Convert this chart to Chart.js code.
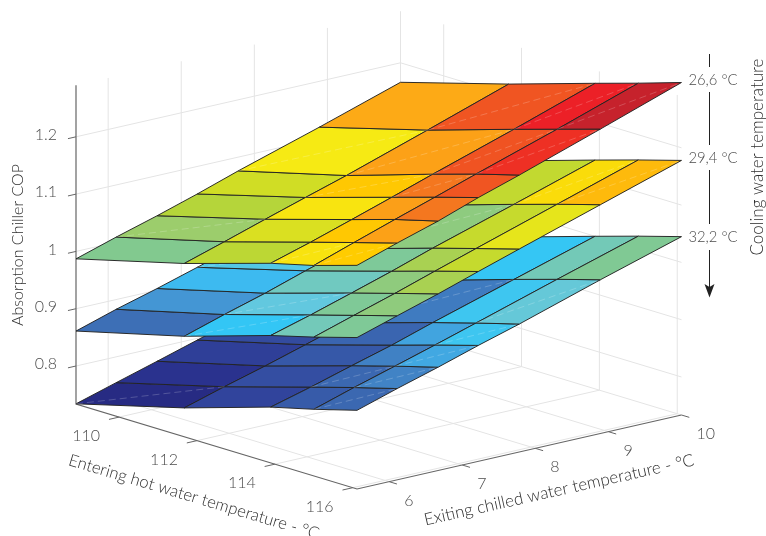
<!DOCTYPE html>
<html>
<head>
<meta charset="utf-8">
<title>Absorption Chiller COP</title>
<script src="https://cdn.jsdelivr.net/npm/chart.js@4/dist/chart.umd.min.js"></script>
<style>
  html, body { margin: 0; padding: 0; background: #fff; overflow: hidden; }
  canvas { display: block; }
</style>
</head>
<body>
<canvas id="myChart" width="766" height="536"></canvas>
<script>
// grid of the measurements (converted from deg F, so not round numbers)
const hotTemps = [108.89, 111.67, 113.89, 115, 116.11];
const chilledTemps = [5.56, 6.11, 6.67, 7.22, 7.78, 8.89, 10];

// COP, one row per chilled temp, one column per hot temp
const cop266 = [
  [0.987, 1.036, 1.082, 1.101, 1.124],
  [1.009, 1.058, 1.103, 1.125, 1.147],
  [1.030, 1.081, 1.126, 1.149, 1.169],
  [1.052, 1.103, 1.149, 1.172, 1.194],
  [1.076, 1.125, 1.173, 1.196, 1.217],
  [1.120, 1.172, 1.219, 1.242, 1.265],
  [1.166, 1.220, 1.267, 1.290, 1.314]
];
const cop294 = [
  [0.861, 0.909, 0.956, 0.976, 0.998],
  [0.883, 0.931, 0.976, 0.998, 1.020],
  [0.903, 0.952, 0.998, 1.020, 1.042],
  [0.924, 0.975, 1.020, 1.043, 1.065],
  [0.946, 0.997, 1.044, 1.066, 1.088],
  [0.988, 1.041, 1.088, 1.111, 1.133],
  [1.030, 1.086, 1.133, 1.156, 1.178]
];
const cop322 = [
  [0.734, 0.784, 0.831, 0.850, 0.871],
  [0.755, 0.805, 0.850, 0.872, 0.893],
  [0.776, 0.825, 0.871, 0.893, 0.914],
  [0.797, 0.846, 0.891, 0.914, 0.936],
  [0.818, 0.868, 0.914, 0.936, 0.957],
  [0.861, 0.910, 0.957, 0.980, 1.002],
  [0.903, 0.953, 1.000, 1.023, 1.045]
];

// cells that show the faint dashed seam in the picture, [row, col]
const seams266 = [[0, 2], [0, 3], [1, 0], [3, 1], [3, 2], [4, 0], [4, 1], [4, 2], [4, 3], [5, 1], [5, 2], [5, 3]];
const seams294 = [[0, 1], [1, 1], [3, 0], [4, 1], [5, 2], [5, 3]];
const seams322 = [[0, 0], [0, 3], [1, 2], [1, 3], [2, 3], [3, 3], [4, 1], [4, 3]];

const hotTicks = [110, 112, 114, 116];
const chilledTicks = [6, 7, 8, 9, 10];
const copTicks = [0.8, 0.9, 1, 1.1, 1.2];
const copTickLabels = ['0.8', '0.9', '1', '1.1', '1.2'];
const coolingLabels = ['26,6 °C', '29,4 °C', '32,2 °C'];

// colormap read from the cells
const mapValues = [0.734, 0.76, 0.785, 0.83, 0.861, 0.883, 0.903, 0.909, 0.931, 0.952, 0.976, 0.987, 1.009, 1.03, 1.052, 1.076, 1.101, 1.12, 1.15, 1.172, 1.196, 1.219, 1.242, 1.32];
const mapColors = [[39, 43, 131], [43, 52, 144], [49, 69, 156], [55, 90, 169], [61, 111, 182], [68, 150, 212], [61, 186, 240], [51, 198, 245], [98, 200, 223], [112, 201, 192], [127, 201, 151], [130, 201, 143], [156, 205, 108], [181, 213, 58], [208, 221, 37], [246, 234, 20], [255, 204, 0], [253, 170, 22], [244, 117, 31], [240, 85, 34], [238, 48, 36], [236, 32, 39], [198, 34, 44], [176, 31, 42]];

const hotMin = 108.89, hotMax = 116.11;
const chilledMin = 5.56, chilledMax = 10;
const copMin = 0.7337, copMax = 1.29;

// simple oblique projection of the 3d box onto the 2d scales
function project(hot, chilled, cop) {
  const u = (hot - hotMin) / (hotMax - hotMin);
  const v = (chilled - chilledMin) / (chilledMax - chilledMin);
  return {
    x: 76 + 281 * u + 324.5 * v,
    y: 404 + 85 * u - 74 * v - (cop - copMin) * 573
  };
}

function colorFor(val) {
  let i = 0;
  while (i < mapValues.length - 2 && val > mapValues[i + 1]) i++;
  const t = Math.min(1, Math.max(0, (val - mapValues[i]) / (mapValues[i + 1] - mapValues[i])));
  const a = mapColors[i], b = mapColors[i + 1];
  return 'rgb(' + [0, 1, 2].map(function (k) { return Math.round(a[k] + (b[k] - a[k]) * t); }).join(',') + ')';
}

const datasets = [];

function addLine(points, color, width, dash) {
  datasets.push({
    data: points,
    showLine: true,
    fill: false,
    borderColor: color,
    borderWidth: width,
    borderDash: dash || [],
    pointRadius: 0
  });
}

// walls and floor
const gridColor = '#e4e4e4';
hotTicks.forEach(function (h) {
  addLine([project(h, chilledMin, copMin), project(h, chilledMax, copMin), project(h, chilledMax, copMax)], gridColor, 1);
});
chilledTicks.forEach(function (c) {
  addLine([project(hotMax, c, copMin), project(hotMin, c, copMin), project(hotMin, c, copMax)], gridColor, 1);
});
copTicks.forEach(function (z) {
  addLine([project(hotMin, chilledMin, z), project(hotMin, chilledMax, z), project(hotMax, chilledMax, z)], gridColor, 1);
});

// axis lines
addLine([project(hotMin, chilledMin, copMax), project(hotMin, chilledMin, copMin), project(hotMax, chilledMin, copMin), project(hotMax, chilledMax, copMin)], '#666', 1.2);

// tick marks
hotTicks.forEach(function (h) {
  addLine([project(h, chilledMin, copMin), project(h, chilledMin - 0.14, copMin)], '#666', 1);
});
chilledTicks.forEach(function (c) {
  addLine([project(hotMax, c, copMin), project(hotMax + 0.2, c, copMin)], '#666', 1);
});
copTicks.forEach(function (z) {
  addLine([project(hotMin, chilledMin, z), project(hotMin, chilledMin - 0.11, z)], '#666', 1);
});

// the surfaces, lowest first so the upper ones cover it
[[cop322, seams322], [cop294, seams294], [cop266, seams266]].forEach(function (item) {
  const surface = item[0];
  for (let r = 0; r < chilledTemps.length - 1; r++) {
    for (let c = 0; c < hotTemps.length - 1; c++) {
      datasets.push({
        data: [
          project(hotTemps[c], chilledTemps[r], surface[r][c]),
          project(hotTemps[c + 1], chilledTemps[r], surface[r][c + 1]),
          project(hotTemps[c + 1], chilledTemps[r + 1], surface[r + 1][c + 1]),
          project(hotTemps[c], chilledTemps[r + 1], surface[r + 1][c]),
          project(hotTemps[c], chilledTemps[r], surface[r][c])
        ],
        showLine: true,
        fill: 'shape',
        backgroundColor: colorFor(surface[r][c]),
        borderColor: 'rgba(35,35,35,0.95)',
        borderWidth: 1,
        borderJoinStyle: 'round',
        pointRadius: 0
      });
    }
  }
  item[1].forEach(function (cell) {
    const r = cell[0], c = cell[1];
    addLine([
      project(hotTemps[c], chilledTemps[r], surface[r][c]),
      project(hotTemps[c + 1], chilledTemps[r + 1], surface[r + 1][c + 1])
    ], 'rgba(255,255,255,0.25)', 0.8, [7, 4]);
  });
});

// chart.js paints the first dataset last, so flip it with order
datasets.forEach(function (d, i) { d.order = -i; });

const textPlugin = {
  id: 'chartText',
  afterDraw: function (chart) {
    const ctx = chart.ctx;
    const sx = chart.scales.x, sy = chart.scales.y;

    function label(txt, x, y, font, color, angle, align) {
      ctx.save();
      ctx.translate(sx.getPixelForValue(x), sy.getPixelForValue(y));
      ctx.rotate((angle || 0) * Math.PI / 180);
      ctx.font = font;
      ctx.fillStyle = color;
      ctx.textAlign = align || 'center';
      ctx.textBaseline = 'middle';
      ctx.fillText(txt, 0, 0);
      ctx.restore();
    }

    const tickFont = '300 16px Lato';
    const tickColor = '#4c4c4c';
    const titleColor = '#2e2e2e';

    copTicks.forEach(function (z, i) {
      const p = project(hotMin, chilledMin, z);
      label(copTickLabels[i], p.x - 19, p.y - 2, tickFont, tickColor, 0, 'right');
    });
    hotTicks.forEach(function (h) {
      const p = project(h, chilledMin, copMin);
      label(String(h), p.x - 33, p.y + 19, tickFont, tickColor);
    });
    chilledTicks.forEach(function (c) {
      const p = project(hotMax, c, copMin);
      label(String(c), p.x + 15, p.y + 19, tickFont, tickColor, 0, 'left');
    });

    label('Absorption Chiller COP', 18, 245, '300 16px Lato', titleColor, -90);
    label('Entering hot water temperature - °C', 194, 497, '300 16.7px Lato', titleColor, 16.6);
    label('Exiting chilled water temperature - °C', 559, 490, '300 17px Lato', titleColor, -12.6);
    label('Cooling water temperature', 758, 157, '300 17px Lato', titleColor, -90);

    [80.7, 158, 237.7].forEach(function (y, i) {
      label(coolingLabels[i], 713, y, '300 14.8px Lato', tickColor);
    });

    // cooling water arrow, broken around the labels
    ctx.save();
    ctx.strokeStyle = '#222';
    ctx.lineWidth = 1;
    [[54, 67], [92, 145], [170, 224], [250, 288]].forEach(function (seg) {
      ctx.beginPath();
      ctx.moveTo(709.5, seg[0]);
      ctx.lineTo(709.5, seg[1]);
      ctx.stroke();
    });
    ctx.fillStyle = '#222';
    ctx.beginPath();
    ctx.moveTo(704.5, 284);
    ctx.lineTo(709.5, 287);
    ctx.lineTo(714.5, 284);
    ctx.lineTo(709.5, 297.5);
    ctx.closePath();
    ctx.fill();
    ctx.restore();
  }
};

const config = {
  type: 'scatter',
  data: { datasets: datasets },
  options: {
    responsive: false,
    animation: false,
    layout: { padding: 0 },
    elements: { line: { tension: 0 } },
    scales: {
      x: { type: 'linear', min: 0, max: 766, display: false },
      y: { type: 'linear', min: 0, max: 536, reverse: true, display: false }
    },
    plugins: {
      legend: { display: false },
      tooltip: { enabled: false }
    }
  },
  plugins: [textPlugin]
};

const myChart = new Chart(document.getElementById('myChart'), config);
</script>
</body>
</html>
